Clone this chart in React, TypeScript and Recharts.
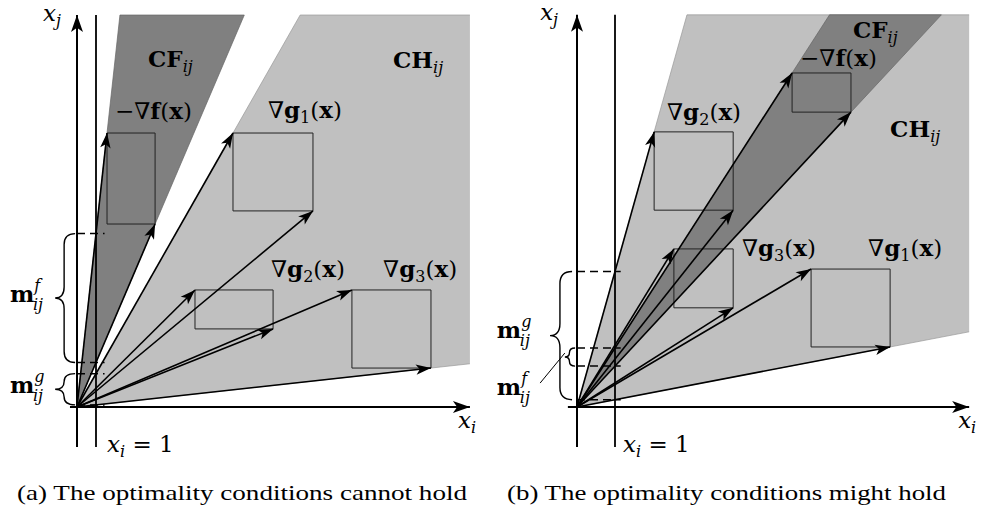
import React from "react";
import {
  Area,
  ComposedChart,
  Line,
  ReferenceArea,
  ReferenceDot,
  XAxis,
  YAxis,
} from "recharts";

type Box = { x1: number; x2: number; y1: number; y2: number };
type Frame = { x: number; y: number; below: number; left: number };
type MathLabel = {
  kind: "set" | "grad" | "var" | "m";
  text: string;
  sub?: string;
  sup?: string;
  prefix?: string;
  suffix?: string;
  x: number;
  y: number;
};

// panel (a): one unit = distance from the x_j axis to x_i = 1
const fBoxA: Box = { x1: 1.58, x2: 4.11, y1: 9.63, y2: 14.42 };
const gBoxesA: Box[] = [
  { x1: 8.21, x2: 12.42, y1: 10.32, y2: 14.42 },
  { x1: 6.21, x2: 10.32, y1: 4.11, y2: 6.16 },
  { x1: 14.47, x2: 18.63, y1: 2.05, y2: 6.16 },
];
const frameA: Frame = { x: 20.68, y: 20.63, below: -2.1, left: -0.37 };
const labelsA: MathLabel[] = [
  { kind: "var", text: "x", sub: "j", x: -1.79, y: 20.3 },
  { kind: "var", text: "x", sub: "i", x: 20.05, y: -1.11 },
  { kind: "var", text: "x", sub: "i", suffix: "\u00a0=\u00a01", x: 1.58, y: -2.37 },
  { kind: "set", text: "CF", sub: "ij", x: 3.74, y: 17.89 },
  { kind: "set", text: "CH", sub: "ij", x: 16.63, y: 17.84 },
  { kind: "grad", prefix: "\u2212\u2207", text: "f", x: 2.0, y: 15.16 },
  { kind: "grad", prefix: "\u2207", text: "g", sub: "1", x: 10.05, y: 15.21 },
  { kind: "grad", prefix: "\u2207", text: "g", sub: "2", x: 10.21, y: 6.84 },
  { kind: "grad", prefix: "\u2207", text: "g", sub: "3", x: 16.11, y: 6.84 },
  { kind: "m", text: "m", sup: "f", sub: "ij", x: -3.53, y: 5.53 },
  { kind: "m", text: "m", sup: "g", sub: "ij", x: -3.53, y: 0.74 },
];

// panel (b)
const fBoxB: Box = { x1: 5.66, x2: 7.21, y1: 7.76, y2: 8.79 };
const gBoxesB: Box[] = [
  { x1: 6.16, x2: 8.24, y1: 1.58, y2: 3.63 },
  { x1: 2.03, x2: 4.11, y1: 5.18, y2: 7.24 },
  { x1: 2.55, x2: 4.11, y1: 2.61, y2: 4.16 },
];
const frameB: Frame = { x: 10.32, y: 10.32, below: -1.05, left: -0.24 };
const labelsB: MathLabel[] = [
  { kind: "var", text: "x", sub: "j", x: -0.97, y: 10.18 },
  { kind: "var", text: "x", sub: "i", x: 10.03, y: -0.55 },
  { kind: "var", text: "x", sub: "i", suffix: "\u00a0=\u00a01", x: 1.21, y: -1.18 },
  { kind: "set", text: "CF", sub: "ij", x: 7.26, y: 9.71 },
  { kind: "set", text: "CH", sub: "ij", x: 8.24, y: 7.11 },
  { kind: "grad", prefix: "\u2212\u2207", text: "f", x: 5.87, y: 8.97 },
  { kind: "grad", prefix: "\u2207", text: "g", sub: "2", x: 2.37, y: 7.55 },
  { kind: "grad", prefix: "\u2207", text: "g", sub: "3", x: 4.34, y: 3.97 },
  { kind: "grad", prefix: "\u2207", text: "g", sub: "1", x: 7.66, y: 3.97 },
  { kind: "m", text: "m", sup: "g", sub: "ij", x: -2.11, y: 1.82 },
  { kind: "m", text: "m", sup: "f", sub: "ij", x: -2.11, y: 0.32 },
];
const leaderB = [
  { x: -0.97, y: 0.63 },
  { x: -0.32, y: 1.42 },
];

const captions = [
  "(a) The optimality conditions cannot hold",
  "(b) The optimality conditions might hold",
];

const MATH = "'DejaVu Serif', serif";
const FS = 23;
const SFS = 16;

function cone(boxes: Box[], frame: Frame) {
  const su = Math.max(...boxes.map((b) => b.y2 / b.x1));
  const sl = Math.min(...boxes.map((b) => b.y1 / b.x2));
  const xu = frame.y / su;
  const xl = frame.y / sl;
  const pts = [
    { x: 0, range: [0, 0] },
    { x: xu, range: [sl * xu, frame.y] },
    xl <= frame.x
      ? { x: xl, range: [frame.y, frame.y] }
      : { x: frame.x, range: [sl * frame.x, frame.y] },
  ];
  return { su, sl, pts };
}

function arrowDot(dx: number, dy: number, len: number, half: number) {
  return (p: any) => {
    if (p.index !== 1 || p.cx == null) return <g key={`d${p.index}`} />;
    const a = Math.atan2(-dy, dx);
    const ux = Math.cos(a);
    const uy = Math.sin(a);
    const bx = p.cx - ux * len;
    const by = p.cy - uy * len;
    const nx = p.cx - ux * len * 0.75;
    const ny = p.cy - uy * len * 0.75;
    const pts = [
      [p.cx, p.cy],
      [bx - uy * half, by + ux * half],
      [nx, ny],
      [bx + uy * half, by - ux * half],
    ]
      .map((q) => q.join(","))
      .join(" ");
    return <polygon key={`d${p.index}`} points={pts} fill="#000" />;
  };
}

function Brace(props: any) {
  const { x, y, width: w, height: h } = props;
  const xs = x + w * 0.45;
  const ym = y + h / 2;
  const r = Math.min(w * 0.55, h / 4);
  const d = `M${x + w},${y} Q${xs},${y} ${xs},${y + r} L${xs},${ym - r} Q${xs},${ym} ${x},${ym} Q${xs},${ym} ${xs},${ym + r} L${xs},${y + h - r} Q${xs},${y + h} ${x + w},${y + h}`;
  return <path d={d} fill="none" stroke="#000" strokeWidth={1.4} />;
}

function MathText({ cx, cy, l }: { cx: number; cy: number; l: MathLabel }) {
  const base = { fontFamily: MATH, fill: "#000", fontSize: FS };
  if (l.kind === "set") {
    return (
      <text x={cx} y={cy} {...base}>
        <tspan fontWeight="bold">{l.text}</tspan>
        <tspan fontStyle="italic" fontSize={SFS} dy={5}>
          {l.sub}
        </tspan>
      </text>
    );
  }
  if (l.kind === "grad") {
    return (
      <text x={cx} y={cy} {...base}>
        <tspan>{l.prefix}</tspan>
        <tspan fontWeight="bold">{l.text}</tspan>
        {l.sub && (
          <tspan fontSize={SFS} dy={5}>
            {l.sub}
          </tspan>
        )}
        <tspan dy={l.sub ? -5 : 0}>(</tspan>
        <tspan fontWeight="bold">x</tspan>
        <tspan>)</tspan>
      </text>
    );
  }
  if (l.kind === "var") {
    return (
      <text x={cx} y={cy} {...base}>
        <tspan fontStyle="italic">{l.text}</tspan>
        <tspan fontStyle="italic" fontSize={SFS} dy={5}>
          {l.sub}
        </tspan>
        {l.suffix && <tspan dy={-5}>{l.suffix}</tspan>}
      </text>
    );
  }
  // bold m with stacked superscript and subscript
  return (
    <text x={cx} y={cy} {...base}>
      <tspan fontWeight="bold">{l.text}</tspan>
      <tspan fontSize={SFS} fontStyle="italic" dy={-11}>
        {l.sup}
      </tspan>
      <tspan x={cx + 23} fontSize={SFS} fontStyle="italic" dy={19}>
        {l.sub}
      </tspan>
    </text>
  );
}

type PanelProps = {
  left: number;
  unit: number;
  originY: number;
  xDomain: [number, number];
  yMin: number;
  fBox: Box;
  gBoxes: Box[];
  frame: Frame;
  labels: MathLabel[];
  braceF: [number, number];
  braceG: [number, number];
  dashEnd: number;
  leader?: { x: number; y: number }[];
};

function Panel(p: PanelProps) {
  // y domain reaches the top of the page so labels near the top are not cut
  const yDomain: [number, number] = [p.yMin, p.originY / p.unit];
  const width = (p.xDomain[1] - p.xDomain[0]) * p.unit;
  const height = (yDomain[1] - yDomain[0]) * p.unit;
  const cf = cone([p.fBox], p.frame);
  const ch = cone(p.gBoxes, p.frame);
  const boxes = [p.fBox, ...p.gBoxes];
  const arrows = boxes.flatMap((b) => [
    { x: b.x1, y: b.y2 },
    { x: b.x2, y: b.y1 },
  ]);
  const levels = [cf.su, cf.sl, ch.su, ch.sl];
  const fr = p.frame;

  return (
    <div style={{ position: "absolute", left: p.left, top: 0 }}>
      <ComposedChart
        width={width}
        height={height}
        margin={{ top: 0, right: 0, bottom: 0, left: 0 }}
      >
        <XAxis
          type="number"
          dataKey="x"
          domain={p.xDomain}
          allowDataOverflow
          hide
        />
        <YAxis type="number" domain={yDomain} allowDataOverflow hide />
        <Area
          data={ch.pts}
          dataKey="range"
          type="linear"
          fill="#c0c0c0"
          fillOpacity={1}
          stroke="#9a9a9a"
          strokeWidth={0.7}
          isAnimationActive={false}
        />
        <Area
          data={cf.pts}
          dataKey="range"
          type="linear"
          fill="#808080"
          fillOpacity={1}
          stroke="#666"
          strokeWidth={0.7}
          isAnimationActive={false}
        />
        {boxes.map((b, i) => (
          <Line
            key={`box${i}`}
            data={[
              { x: b.x1, y: b.y1 },
              { x: b.x2, y: b.y1 },
              { x: b.x2, y: b.y2 },
              { x: b.x1, y: b.y2 },
              { x: b.x1, y: b.y1 },
            ]}
            dataKey="y"
            type="linear"
            stroke="#222"
            strokeWidth={1}
            dot={false}
            activeDot={false}
            isAnimationActive={false}
          />
        ))}
        {levels.map((v, i) => (
          <Line
            key={`dash${i}`}
            data={[
              { x: 0, y: v },
              { x: p.dashEnd, y: v },
            ]}
            dataKey="y"
            type="linear"
            stroke="#000"
            strokeWidth={1.5}
            strokeDasharray="8 5"
            dot={false}
            activeDot={false}
            isAnimationActive={false}
          />
        ))}
        {arrows.map((a, i) => (
          <Line
            key={`arr${i}`}
            data={[{ x: 0, y: 0 }, a]}
            dataKey="y"
            type="linear"
            stroke="#000"
            strokeWidth={1.6}
            dot={arrowDot(a.x, a.y, 15, 5.2)}
            activeDot={false}
            isAnimationActive={false}
          />
        ))}
        <Line
          data={[
            { x: 1, y: fr.below },
            { x: 1, y: fr.y },
          ]}
          dataKey="y"
          type="linear"
          stroke="#000"
          strokeWidth={1.8}
          dot={false}
          activeDot={false}
          isAnimationActive={false}
        />
        <Line
          data={[
            { x: 0, y: fr.below },
            { x: 0, y: fr.y },
          ]}
          dataKey="y"
          type="linear"
          stroke="#000"
          strokeWidth={2}
          dot={arrowDot(0, 1, 17, 6)}
          activeDot={false}
          isAnimationActive={false}
        />
        <Line
          data={[
            { x: fr.left, y: 0 },
            { x: fr.x, y: 0 },
          ]}
          dataKey="y"
          type="linear"
          stroke="#000"
          strokeWidth={2}
          dot={arrowDot(1, 0, 17, 6)}
          activeDot={false}
          isAnimationActive={false}
        />
        {p.leader && (
          <Line
            data={p.leader}
            dataKey="y"
            type="linear"
            stroke="#000"
            strokeWidth={1}
            dot={false}
            activeDot={false}
            isAnimationActive={false}
          />
        )}
        <ReferenceArea
          x1={p.braceF[0]}
          x2={p.braceF[1]}
          y1={cf.sl}
          y2={cf.su}
          shape={(s: any) => <Brace {...s} />}
        />
        <ReferenceArea
          x1={p.braceG[0]}
          x2={p.braceG[1]}
          y1={ch.sl}
          y2={ch.su}
          shape={(s: any) => <Brace {...s} />}
        />
        {p.labels.map((l, i) => (
          <ReferenceDot
            key={`lab${i}`}
            x={l.x}
            y={l.y}
            r={1}
            shape={(s: any) => <MathText cx={s.cx} cy={s.cy} l={l} />}
          />
        ))}
      </ComposedChart>
    </div>
  );
}

export default function App() {
  return (
    <div
      style={{
        position: "absolute",
        left: 0,
        top: 0,
        width: 986,
        height: 513,
        background: "#fff",
        overflow: "hidden",
      }}
    >
      <Panel
        left={1}
        unit={19}
        originY={407}
        xDomain={[-4, 22]}
        yMin={-4}
        fBox={fBoxA}
        gBoxes={gBoxesA}
        frame={frameA}
        labels={labelsA}
        braceF={[-1.15, -0.1]}
        braceG={[-1.15, -0.1]}
        dashEnd={1.45}
      />
      <Panel
        left={482}
        unit={38}
        originY={407}
        xDomain={[-2.5, 10.5]}
        yMin={-2}
        fBox={fBoxB}
        gBoxes={gBoxesB}
        frame={frameB}
        labels={labelsB}
        braceF={[-0.32, -0.05]}
        braceG={[-0.71, -0.13]}
        dashEnd={1.15}
        leader={leaderB}
      />
      <svg
        width={986}
        height={513}
        style={{ position: "absolute", left: 0, top: 0, pointerEvents: "none" }}
      >
        <text
          x={17}
          y={500}
          fontFamily="'Liberation Serif', serif"
          fontSize={21}
          textLength={450}
          lengthAdjust="spacingAndGlyphs"
        >
          {captions[0]}
        </text>
        <text
          x={507}
          y={500}
          fontFamily="'Liberation Serif', serif"
          fontSize={21}
          textLength={439}
          lengthAdjust="spacingAndGlyphs"
        >
          {captions[1]}
        </text>
      </svg>
    </div>
  );
}
